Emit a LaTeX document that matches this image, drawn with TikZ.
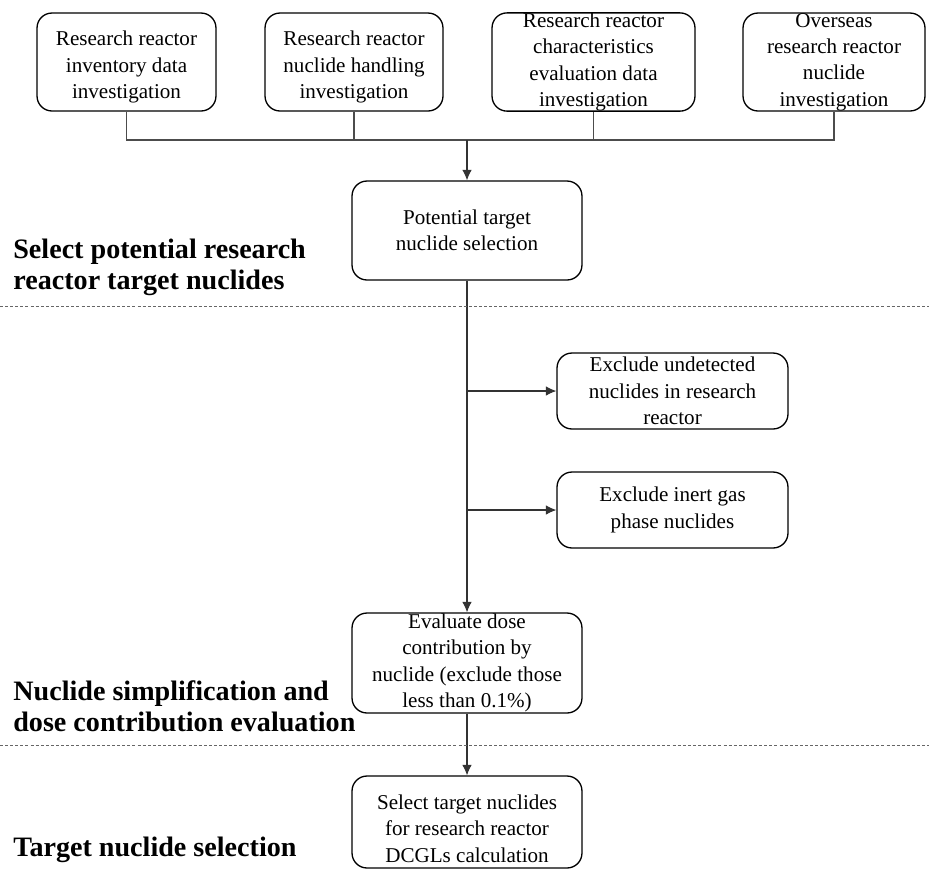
\documentclass[tikz,border=0pt]{standalone}
\usepackage{fontspec}
\setmainfont{Liberation Serif}
\usepackage{tikz}
\usetikzlibrary{arrows.meta}
\def\boxfont{\fontsize{12}{15}\selectfont}
\def\stagefont{\fontsize{16}{17.6}\selectfont\bfseries}

\begin{document}
\begin{tikzpicture}[x=0.02cm, y=-0.02cm,
  procbox/.style={draw, line width=0.75pt, rounded corners=0.3cm, inner sep=0pt, align=center, font=\boxfont},
  conn/.style={draw=black!70, line width=0.6pt},
  arr/.style={draw=black!80, line width=0.6pt, -{Latex[length=6pt,width=5.5pt]}},
  sep/.style={draw=black!60, line width=0.55pt, dash pattern=on 1.7pt off 1.2pt},
  stage/.style={anchor=west, align=left, inner sep=0pt, font=\stagefont}]
\useasboundingbox (0,0) rectangle (929,870);
% top row
\node[procbox, minimum width=3.58cm, minimum height=1.96cm] (inv) at (126.5,62) {\rule{0pt}{14pt}Research reactor\\inventory data\\investigation};
\node[procbox, minimum width=3.56cm, minimum height=1.96cm] (hnd) at (354,62) {\rule{0pt}{14pt}Research reactor\\nuclide handling\\investigation};
\node[procbox, minimum width=4.06cm, minimum height=1.96cm] (cha) at (593.5,62) {Research reactor\\characteristics\\evaluation data\\investigation};
\node[procbox, minimum width=3.64cm, minimum height=1.96cm] (ovs) at (834,62) {Overseas\\research reactor\\nuclide\\investigation};
\coordinate (merge) at (467,140);
\draw[conn] (inv.south) |- (merge) -| (ovs.south);
\draw[conn] (hnd.south) -- (hnd.south |- merge);
\draw[conn] (cha.south) -- (cha.south |- merge);
% middle column
\node[procbox, minimum width=4.6cm, minimum height=1.98cm] (pot) at (467,230.5) {Potential target\\nuclide selection};
\node[procbox, minimum width=4.62cm, minimum height=1.52cm] (exc1) at (672.5,391) {Exclude undetected\\nuclides in research\\reactor};
\node[procbox, minimum width=4.62cm, minimum height=1.52cm] (exc2) at (672.5,510) {Exclude inert gas\\phase nuclides};
\node[procbox, minimum width=4.6cm, minimum height=2cm] (eva) at (467,663) {Evaluate dose\\contribution by\\nuclide (exclude those\\less than 0.1\%)};
\node[procbox, minimum width=4.6cm, minimum height=1.84cm] (sel) at (467,822) {\rule{0pt}{16pt}Select target nuclides\\for research reactor\\DCGLs calculation};
\draw[arr] (merge) -- (pot.north);
\draw[arr] (pot.south) -- (eva.north);
\draw[arr] (pot.south |- exc1.west) -- (exc1.west);
\draw[arr] (pot.south |- exc2.west) -- (exc2.west);
\draw[arr] (eva.south) -- (sel.north);
% stages
\draw[sep] (0,306) -- (929,306);
\draw[sep] (0,745) -- (929,745);
\node[stage] (st1) at (13,267.5) {Select potential research\\reactor target nuclides};
\node[stage] (st2) at (13,706) {Nuclide simplification and\\dose contribution evaluation};
\node[stage] (st3) at (13,850) {Target nuclide selection};
\end{tikzpicture}
\end{document}
